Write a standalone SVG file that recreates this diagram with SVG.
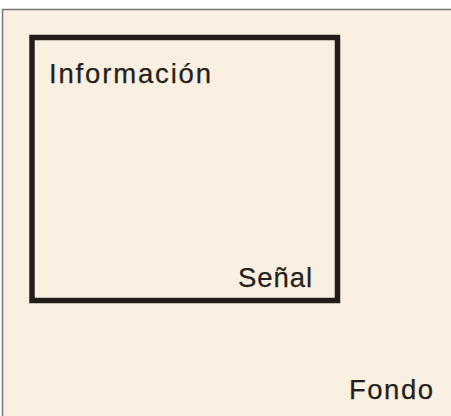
<svg xmlns="http://www.w3.org/2000/svg" width="451" height="416" viewBox="0 0 451 416">
  <defs>
    <style>
      .lbl { font-family: "Liberation Sans", Arial, sans-serif; font-size: 27.5px; fill: #231f1d; stroke: #231f1d; stroke-width: 0.25; }
    </style>
    <filter id="soft" x="-5%" y="-5%" width="110%" height="110%">
      <feGaussianBlur stdDeviation="0.7"/>
    </filter>
  </defs>
  <rect x="0" y="0" width="451" height="416" fill="#ffffff"/>
  <g id="fondo">
    <rect x="2.5" y="9.5" width="470" height="430" fill="#faf0e1" stroke="#7a7674" stroke-width="1.5"/>
    <text class="lbl" x="349" y="399" textLength="84" lengthAdjust="spacing">Fondo</text>
  </g>
  <g id="informacion">
    <rect x="32" y="37.5" width="305.5" height="263" fill="none" stroke="#231f1d" stroke-width="5.5" filter="url(#soft)"/>
    <text class="lbl" x="49" y="83" textLength="162" lengthAdjust="spacing">Información</text>
  </g>
  <g id="senal">
    <text class="lbl" x="238" y="287" textLength="74" lengthAdjust="spacing">Señal</text>
  </g>
  <g id="connectors"/>
</svg>
